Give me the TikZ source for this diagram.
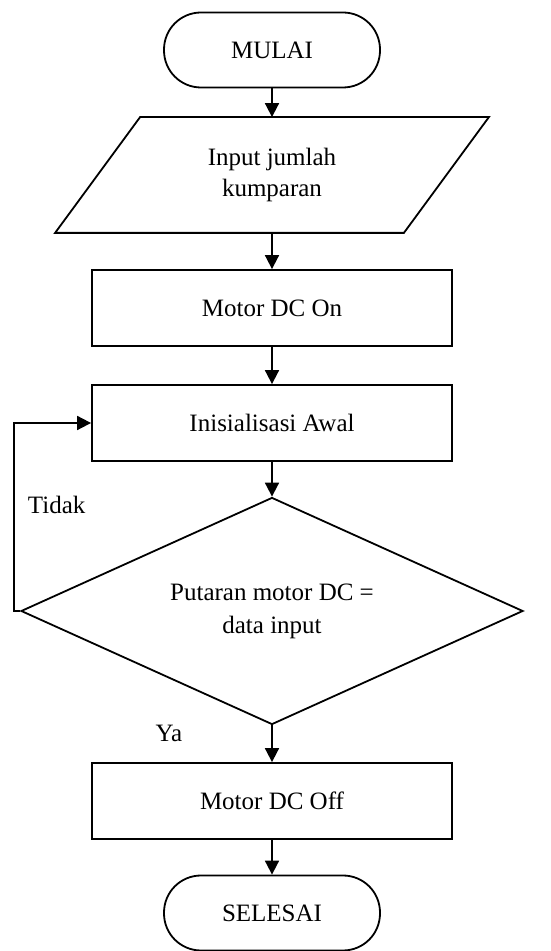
\documentclass[tikz,border=0pt]{standalone}
\usepackage{fontspec}
\setmainfont{Liberation Serif}
\usetikzlibrary{shapes.geometric,arrows.meta}

\begin{document}
\begin{tikzpicture}[x=1pt,y=1pt,line width=1.8pt,
  font=\fontsize{25}{31}\selectfont,
  terminal/.style={draw,rectangle,rounded corners=37pt,minimum width=216pt,minimum height=75pt},
  proses/.style={draw,rectangle,minimum width=360pt,minimum height=76pt},
  panah/.style={-{Triangle[length=14pt,width=14pt]}}]
  \useasboundingbox (0,0) rectangle (550,951);
  % bentuk
  \node[terminal] (mulai) at (272,901) {MULAI};
  \node[minimum width=347pt,minimum height=114pt,align=center,inner sep=0pt] (input) at (272,776) {Input jumlah\\kumparan};
  \draw ([xshift=42.5pt]input.north west) -- ([xshift=42.5pt]input.north east)
     -- ([xshift=-42.5pt]input.south east) -- ([xshift=-42.5pt]input.south west) -- cycle;
  \node[proses] (on) at (272,643) {Motor DC On};
  \node[proses] (init) at (272,528) {Inisialisasi Awal};
  \node[draw,diamond,aspect=2.2,inner sep=0pt,minimum width=502pt,minimum height=227pt,align=center,
     font=\fontsize{25}{33}\selectfont] (cek) at (272,340) {Putaran motor DC =\\data input};
  \node[proses] (off) at (272,150) {Motor DC Off};
  \node[terminal] (selesai) at (272,38) {SELESAI};
  % label
  \node[right,inner sep=0pt] (tidak) at (27,446) {Tidak};
  \node[inner sep=0pt] (ya) at (169,218) {Ya};
  % panah
  \draw[panah] (mulai) -- (input);
  \draw[panah] (input) -- (on);
  \draw[panah] (on) -- (init);
  \draw[panah] (init) -- (cek);
  \draw[panah] (cek.west) -- ++(-6,0) |- (init.west);
  \draw[panah] (cek) -- (off);
  \draw[panah] (off) -- (selesai);
\end{tikzpicture}
\end{document}
